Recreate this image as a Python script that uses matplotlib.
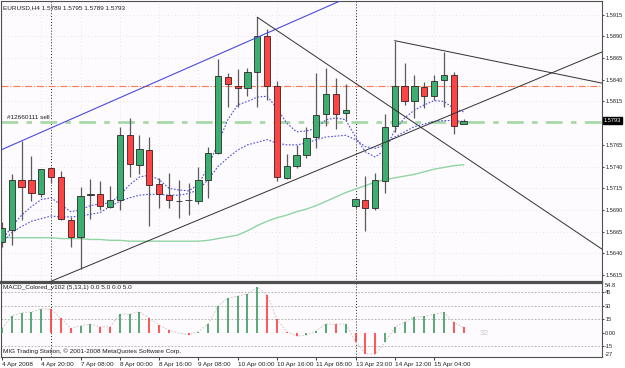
import numpy as np
import matplotlib
matplotlib.use('Agg')
import matplotlib.pyplot as plt

# EURUSD H4 candles (bar 0 = 4 Apr 2008 04:00)
opens = [1.5653, 1.5667, 1.5725, 1.5725, 1.5708, 1.5738, 1.5728, 1.5678, 1.5659, 1.5707,
         1.5708, 1.5693, 1.5702, 1.5776, 1.5742, 1.5759, 1.5720, 1.5707, 1.5700, 1.5702,
         1.5700, 1.5725, 1.5756, 1.5843, 1.5833, 1.5831, 1.5849, 1.5890, 1.5833, 1.5727,
         1.5741, 1.5753, 1.5774, 1.5800, 1.5823, 1.5802, 1.5694, 1.5701, 1.5692, 1.5723,
         1.5787, 1.5833, 1.5816, 1.5832, 1.5821, 1.5840, 1.5846, 1.5789]
highs = [1.5676, 1.5731, 1.5770, 1.5752, 1.5737, 1.5740, 1.5735, 1.5682, 1.5716, 1.5726,
         1.5723, 1.5718, 1.5786, 1.5796, 1.5776, 1.5774, 1.5727, 1.5732, 1.5725, 1.5721,
         1.5740, 1.5763, 1.5864, 1.5848, 1.5852, 1.5854, 1.5912, 1.5899, 1.5838, 1.5755,
         1.5765, 1.5786, 1.5848, 1.5854, 1.5842, 1.5835, 1.5704, 1.5729, 1.5732, 1.5801,
         1.5885, 1.5859, 1.5846, 1.5837, 1.5845, 1.5872, 1.5849, 1.5795]
lows = [1.5647, 1.5650, 1.5678, 1.5700, 1.5705, 1.5721, 1.5678, 1.5647, 1.5622, 1.5680,
        1.5690, 1.5692, 1.5690, 1.5728, 1.5731, 1.5671, 1.5692, 1.5692, 1.5681, 1.5684,
        1.5697, 1.5704, 1.5755, 1.5809, 1.5809, 1.5821, 1.5809, 1.5817, 1.5723, 1.5726,
        1.5738, 1.5750, 1.5761, 1.5787, 1.5783, 1.5792, 1.5692, 1.5666, 1.5690, 1.5709,
        1.5780, 1.5811, 1.5796, 1.5807, 1.5817, 1.5809, 1.5778, 1.5789]
closes = [1.5669, 1.5725, 1.5716, 1.5709, 1.5737, 1.5728, 1.5679, 1.5659, 1.5706, 1.5708,
          1.5695, 1.5702, 1.5776, 1.5743, 1.5760, 1.5719, 1.5708, 1.5702, 1.5700, 1.5702,
          1.5725, 1.5756, 1.5844, 1.5835, 1.5830, 1.5849, 1.5890, 1.5833, 1.5728, 1.5741,
          1.5753, 1.5773, 1.5799, 1.5824, 1.5801, 1.5805, 1.5703, 1.5692, 1.5724, 1.5785,
          1.5833, 1.5815, 1.5833, 1.5821, 1.5839, 1.5845, 1.5787, 1.5793]

# moving averages
ma_fast = [1.5655, 1.5671, 1.5684, 1.5694, 1.5702, 1.5704, 1.5696, 1.5688, 1.5690, 1.5695,
           1.5697, 1.5698, 1.5707, 1.5719, 1.5728, 1.5730, 1.5725, 1.5715, 1.5713, 1.5712,
           1.5719, 1.5740, 1.5767, 1.5794, 1.5811, 1.5815, 1.5820, 1.5821, 1.5807, 1.5790,
           1.5780, 1.5781, 1.5784, 1.5794, 1.5796, 1.5794, 1.5774, 1.5757, 1.5751, 1.5759,
           1.5782, 1.5796, 1.5805, 1.5811, 1.5816, 1.5815, 1.5807, 1.5803]
ma_mid = [1.5652, 1.5664, 1.5671, 1.5677, 1.5680, 1.5683, 1.5682, 1.5682, 1.5683, 1.5685,
          1.5687, 1.5694, 1.5700, 1.5704, 1.5707, 1.5708, 1.5708, 1.5707, 1.5707, 1.5709,
          1.5713, 1.5725, 1.5740, 1.5750, 1.5759, 1.5765, 1.5768, 1.5771, 1.5767, 1.5765,
          1.5765, 1.5767, 1.5771, 1.5774, 1.5775, 1.5776, 1.5771, 1.5763, 1.5761, 1.5765,
          1.5774, 1.5780, 1.5786, 1.5789, 1.5792, 1.5793, 1.5793, 1.5792]
ma_slow = [1.5659, 1.5658, 1.5658, 1.5658, 1.5658, 1.5658, 1.5657, 1.5657, 1.5657, 1.5656,
           1.5656, 1.5655, 1.5655, 1.5654, 1.5654, 1.5654, 1.5654, 1.5654, 1.5654, 1.5654,
           1.5654, 1.5655, 1.5657, 1.5659, 1.5661, 1.5666, 1.5672, 1.5677, 1.5681, 1.5684,
           1.5688, 1.5691, 1.5695, 1.5700, 1.5705, 1.5710, 1.5714, 1.5718, 1.5722, 1.5725,
           1.5727, 1.5729, 1.5731, 1.5734, 1.5737, 1.5739, 1.5741, 1.5742]

# MACD_Colored_v102 histogram
macd = [4.7, 18.5, 22.2, 23.0, 26.5, 26.0, 15.9, 4.7, 7.6, 9.2,
        6.5, 6.3, 20.4, 20.7, 23.3, 15.9, 8.4, 2.8, -0.5, -2.5,
        1.0, 9.5, 29.7, 38.3, 40.9, 43.2, 50.7, 42.0, 14.8, 0.9,
        -4.0, -3.0, 2.0, 9.5, 9.3, 9.6, -10.3, -23.5, -24.3, -11.0,
        5.8, 12.1, 17.5, 18.0, 20.4, 22.6, 11.4, 5.8]

time_labels = ['4 Apr 2008', '4 Apr 20:00', '7 Apr 08:00', '8 Apr 00:00', '8 Apr 16:00',
               '9 Apr 08:00', '10 Apr 00:00', '10 Apr 16:00', '11 Apr 08:00',
               '13 Apr 23:00', '14 Apr 12:00', '15 Apr 04:00']
price_ticks = [1.5915, 1.5890, 1.5865, 1.5840, 1.5815, 1.5765, 1.5740, 1.5715,
               1.5690, 1.5665, 1.5640, 1.5615]
week_starts = [5, 36]

# drawn objects: (bar, price) anchors
channel_blue = [(4.7, 1.5783), (21.2, 1.5865)]
channel_low = [(8, 1.5622), (61.1, 1.5872)]
ray_down = [(26, 1.5912), (62, 1.5638)]
ray_top = [(40, 1.5885), (62, 1.5834)]
level_orange = 1.5833
order_price = 1.5791
last_price = 1.5793

###############################################################################

bars = np.arange(len(opens))
o = np.array(opens)
c = np.array(closes)
up = c >= o

plt.rcParams['font.family'] = ['Liberation Sans', 'DejaVu Sans']
fs = 4.6
yfs = 4.1
bg = '#FDFBFD'
xlim = (-0.1, 61.1)

fig = plt.figure(figsize=(6.25, 3.68), dpi=100)
fig.patch.set_facecolor('white')
ax = fig.add_axes([1 / 625, 1 - 282 / 368, 601 / 625, 281 / 368])
ax2 = fig.add_axes([1 / 625, 1 - 357 / 368, 601 / 625, 74 / 368])

for a in (ax, ax2):
    a.set_facecolor(bg)
    a.set_xlim(*xlim)
    for s in a.spines.values():
        s.set_color('#505050')
        s.set_linewidth(0.8)
    a.yaxis.tick_right()
    a.tick_params(axis='y', length=1.5, width=0.6, pad=0.8, labelsize=yfs, colors='#202020')
    for b in week_starts:
        a.axvline(b, color='#202020', linestyle=(0, (1, 2)), linewidth=0.7, zorder=1)
ax.spines['bottom'].set_linewidth(1.6)
ax2.spines['top'].set_linewidth(1.6)

# main chart
ax.set_ylim(1.5607, 1.59307)
ax.set_yticks(price_ticks)
ax.set_yticklabels(['%.4f' % p for p in price_ticks])
ax.set_xticks(bars[::4])
ax.tick_params(axis='x', length=0, labelbottom=False)
ax.grid(True, color='#D8D0D8', linestyle=(0, (1, 4)), linewidth=0.5)
ax.set_axisbelow(True)

ax.axhline(level_orange, color='#FF7A50', linestyle='-.', linewidth=0.8, zorder=2)
ax.axhline(order_price, color='#A8D8A8', linestyle=(0, (6, 3, 2, 3)), linewidth=2.0, zorder=2)
ax.text(0.5, order_price + 0.00025, '#12660111 sell', fontsize=fs, color='#202020', va='bottom')

ax.plot(bars, ma_slow, color='#90D4A4', linewidth=1.0, zorder=3)
ax.plot(bars, ma_mid, color='#5050E0', linestyle=(0, (1.5, 1.5)), linewidth=0.8, zorder=3)
ax.plot(bars, ma_fast, color='#5050E0', linestyle=(0, (1.5, 1.5)), linewidth=0.8, zorder=3)

ax.vlines(bars, lows, highs, color='#5A5A5A', linewidth=0.9, zorder=4)
ax.bar(bars[up], (c - o)[up], bottom=o[up], width=0.64, color='#3CAF70',
       edgecolor='#2A2A2A', linewidth=0.6, zorder=5)
ax.bar(bars[~up], (o - c)[~up], bottom=c[~up], width=0.64, color='#FF4444',
       edgecolor='#3A2020', linewidth=0.6, zorder=5)

ax.axline(*channel_blue, color='#4A4AE0', linewidth=0.8, zorder=6)
ax.axline(*channel_low, color='#303030', linewidth=0.7, zorder=6)
for line in (ray_down, ray_top):
    xs, ys = zip(*line)
    ax.plot(xs, ys, color='#303030', linewidth=0.7, zorder=6)

ax.text(0.004, 0.985, 'EURUSD,H4 1.5789 1.5795 1.5789 1.5793', transform=ax.transAxes,
        fontsize=fs, color='#202020', va='top')
ax.text(1.003, last_price, '%.4f' % last_price, transform=ax.get_yaxis_transform(),
        fontsize=yfs, color='white', va='center', ha='left',
        bbox=dict(boxstyle='square,pad=0.12', fc='black', ec='black'), clip_on=False)

# MACD panel
ax2.set_ylim(-27.4, 55.5)
ax2.set_yticks([45, 30, 15, 0, -15])
ax2.set_yticklabels(['45', '30', '15', '0.00', '-15'])
for lv in (45, 30, 15, -15):
    ax2.axhline(lv, color='#A8A8A8', linestyle=(0, (2, 2)), linewidth=0.6, zorder=1)
ax2.text(1.0045, 55.5, '54.8', transform=ax2.get_yaxis_transform(), fontsize=yfs,
         va='top', ha='left', color='#202020')
ax2.text(1.0045, -27.4, '-27', transform=ax2.get_yaxis_transform(), fontsize=yfs,
         va='bottom', ha='left', color='#202020')

m = np.array(macd)
rising = np.concatenate([[True], np.diff(m) > 0])
cols = np.where(rising, '#3A9A60', '#FF3A3A')
ax2.vlines(bars, 0, m, colors=cols, linewidth=1.2, zorder=3)
ax2.plot(bars, m, color='#D8CACA', linestyle=(0, (1.5, 1.5)), linewidth=0.8, zorder=2)
ax2.text(48.6, -1, '32', fontsize=6, color='#D0C8C8', va='center')

ax2.text(0.004, 0.97, 'MACD_Colored_v102 (5,13,1) 0.0 5.0 0.0 5.0', transform=ax2.transAxes,
         fontsize=fs, color='#202020', va='top')
ax2.text(0.004, 0.04, 'MIG Trading Station, \u00a9 2001-2008 MetaQuotes Software Corp.',
         transform=ax2.transAxes, fontsize=fs, color='#202020', va='bottom')

ax2.set_xticks(bars[::4])
ax2.set_xticklabels(time_labels)
ax2.tick_params(axis='x', length=2.5, width=0.6, pad=1.0, labelsize=fs, colors='#202020')
for lab in ax2.get_xticklabels():
    lab.set_horizontalalignment('left')

fig.savefig('out.png', dpi=100, facecolor='white')
